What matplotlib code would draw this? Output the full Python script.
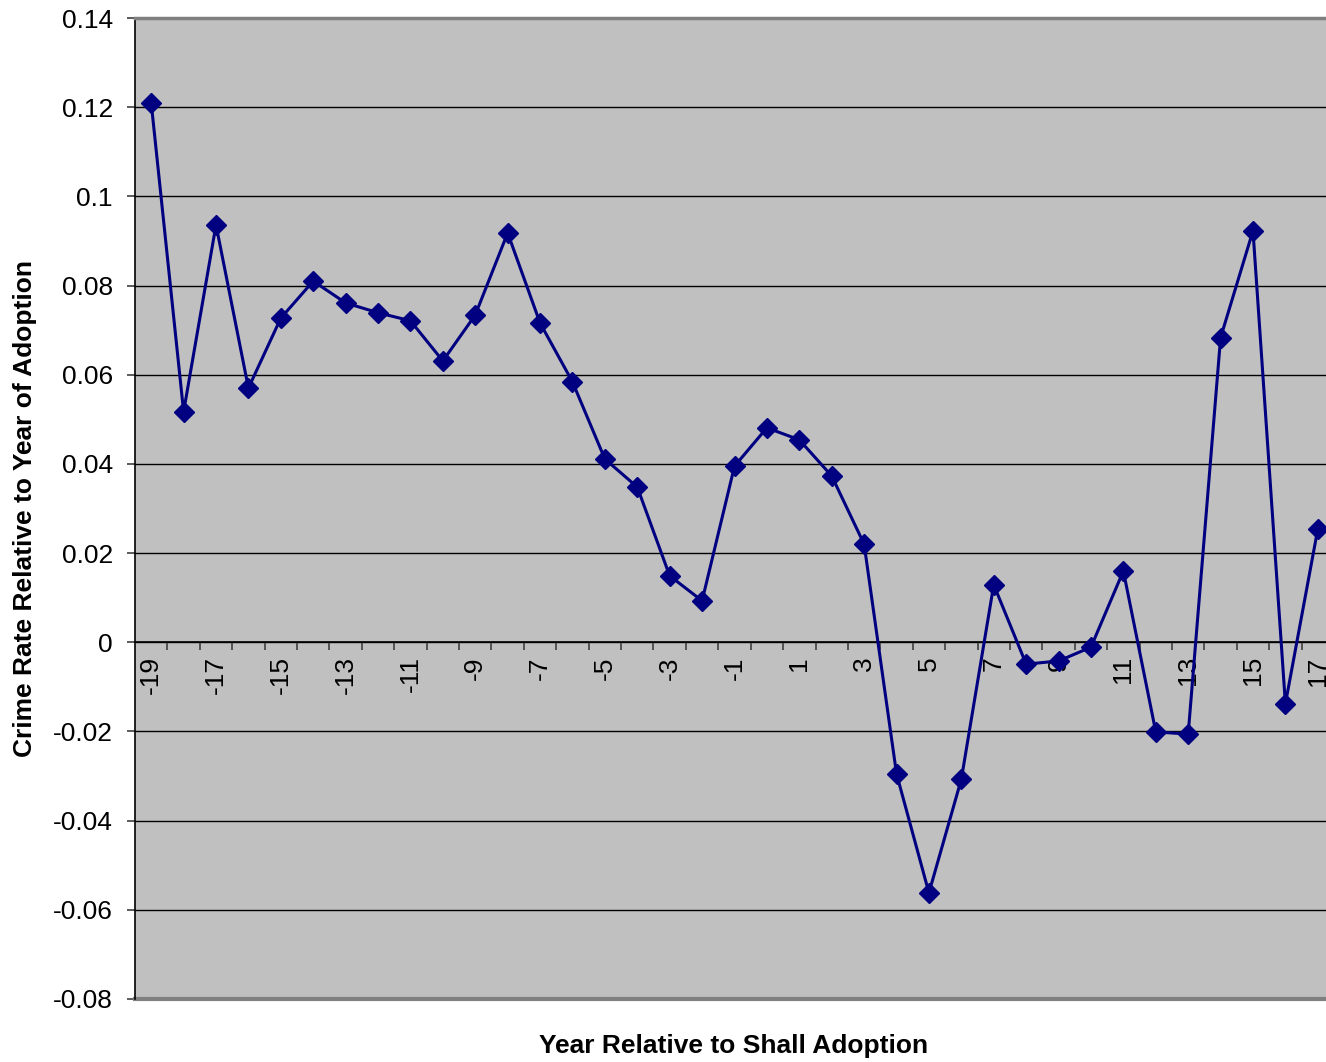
import numpy as np
import matplotlib
matplotlib.use("Agg")
import matplotlib.pyplot as plt
from matplotlib.ticker import FixedLocator, FuncFormatter

# ------------------------------
# data: crime rate change by year relative to adoption
# ------------------------------
years = list(range(-19, 18))
crime_rate = [
    0.1210, 0.0517, 0.0936, 0.0570, 0.0727, 0.0810, 0.0761, 0.0739, 0.0721, 0.0631,
    0.0734, 0.0918, 0.0716, 0.0584, 0.0411, 0.0348, 0.0149, 0.0093, 0.0395, 0.0481,
    0.0454, 0.0373, 0.0220, -0.0295, -0.0562, -0.0307, 0.0129, -0.0049, -0.0042, -0.0011,
    0.0160, -0.0201, -0.0206, 0.0683, 0.0923, -0.0138, 0.0254,
]
y_ticks = [round(v, 2) for v in np.arange(-0.08, 0.1401, 0.02)]
x_labels = years[::2]

plt.rcParams["font.family"] = ["Liberation Sans", "DejaVu Sans"]
plt.rcParams["axes.unicode_minus"] = False

fig = plt.figure(figsize=(13.26, 10.62), dpi=100)
ax = fig.add_axes([135 / 1326, 63 / 1062, 1199 / 1326, 981 / 1062])
ax.set_facecolor("#C0C0C0")

# horizontal gridlines (skip the frame edges)
for v in y_ticks[1:-1]:
    ax.axhline(v, color="black", lw=1.0, zorder=1)

ax.plot(years, crime_rate, color="#000080", lw=2.2, marker="D",
        markersize=10, markerfacecolor="#000080", markeredgecolor="#000080", zorder=3)

ax.set_xlim(years[0] - 0.5, years[-1] + 0.5)
ax.set_ylim(-0.08, 0.14)

# frame
ax.spines["top"].set_color("#808080")
ax.spines["top"].set_linewidth(2.5)
ax.spines["right"].set_color("#808080")
ax.spines["left"].set_color("black")
ax.spines["left"].set_linewidth(1.2)
ax.spines["bottom"].set_position(("data", 0))
ax.spines["bottom"].set_color("black")
ax.spines["bottom"].set_linewidth(1.2)
ax.axhline(-0.08, color="#808080", lw=3, zorder=2, clip_on=False)

# y axis ticks
ax.yaxis.set_major_locator(FixedLocator(y_ticks))
ax.yaxis.set_major_formatter(FuncFormatter(lambda v, p: f"{round(v, 2):g}"))
ax.tick_params(axis="y", direction="out", length=6, width=1.2, pad=10,
               labelsize=19, color="#404040")

# x axis: labels on every other year, tick marks between categories
ax.xaxis.set_major_locator(FixedLocator(x_labels))
ax.xaxis.set_major_formatter(FuncFormatter(lambda v, p: f"{int(round(v))}"))
ax.xaxis.set_minor_locator(FixedLocator([y + 0.5 for y in years[:-1]]))
ax.tick_params(axis="x", which="major", length=0, pad=10, labelsize=19,
               labelrotation=90)
ax.tick_params(axis="x", which="minor", direction="out", length=6, width=1.2,
               color="#404040")
for lbl in ax.get_xticklabels():
    lbl.set_verticalalignment("top")

ax.set_ylabel("Crime Rate Relative to Year of Adoption", fontsize=19,
              fontweight="bold")
ax.yaxis.set_label_coords(-0.0817, 0.5)
ax.set_xlabel("Year Relative to Shall Adoption", fontsize=19, fontweight="bold",
              va="center")
ax.xaxis.set_label_coords((734 - 135) / 1199, -47 / 981)

fig.savefig("out.png", dpi=100)
